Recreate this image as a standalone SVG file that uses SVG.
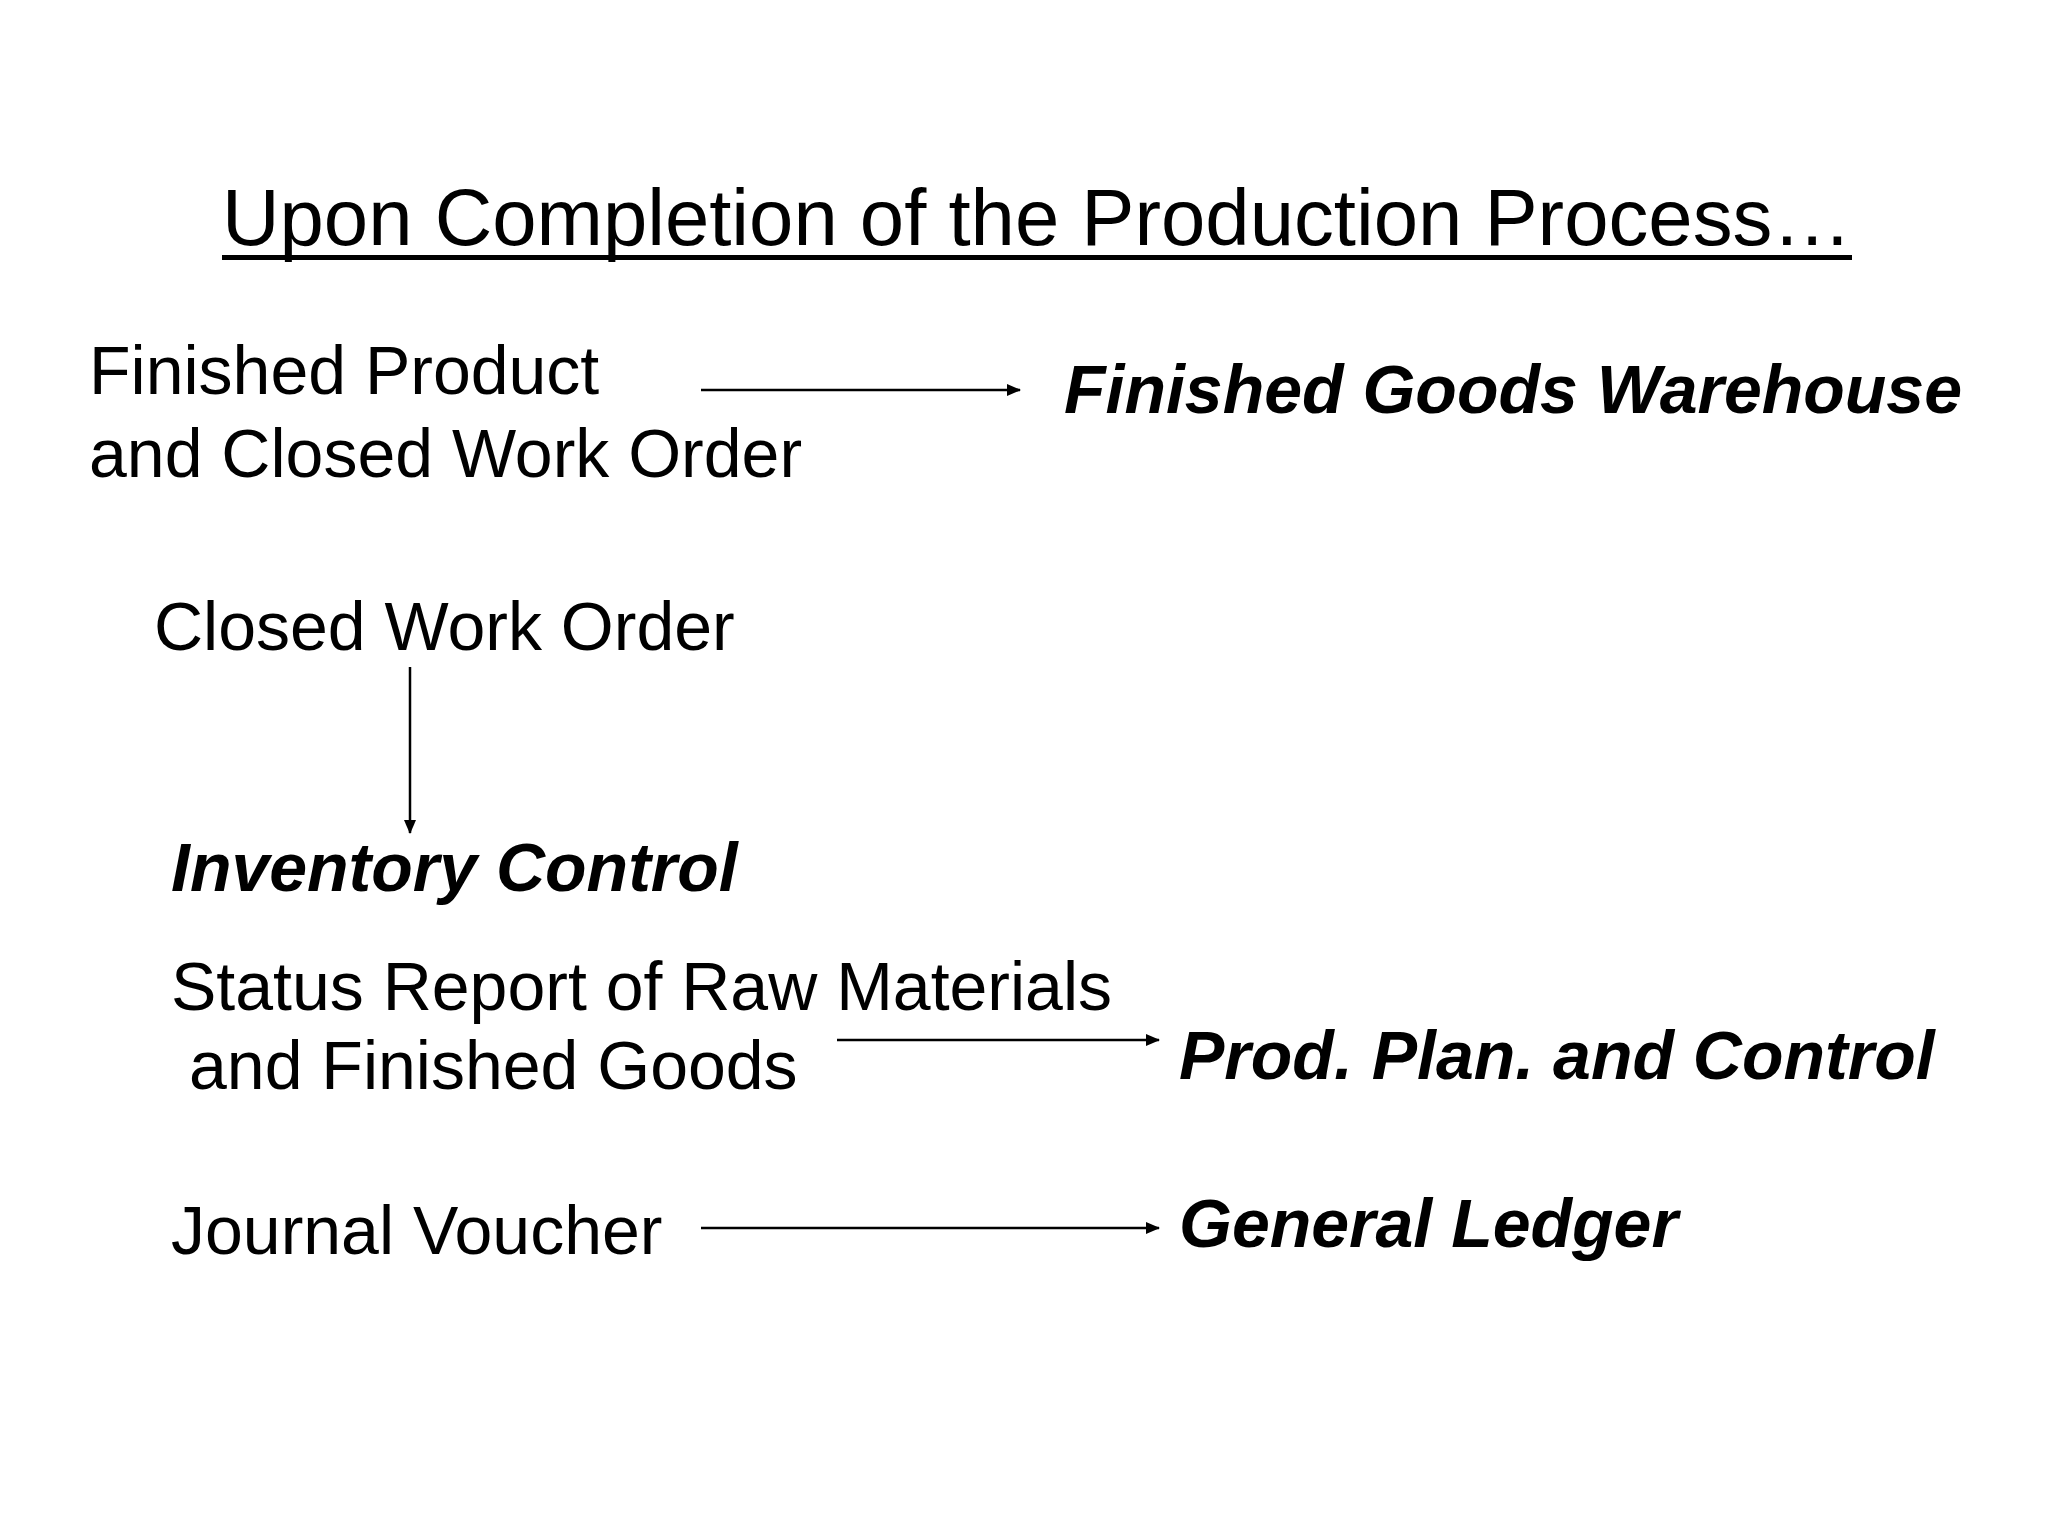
<svg xmlns="http://www.w3.org/2000/svg" width="2048" height="1536" viewBox="0 0 2048 1536">
<style>
.t{font-family:"Liberation Sans",Arial,sans-serif;font-size:68px;fill:#000}
.b{font-weight:bold;font-style:italic}
.c{stroke:#000;stroke-width:2.5;fill:none}
</style>
<defs>
<marker id="ah" markerWidth="14" markerHeight="12" refX="13" refY="6" orient="auto" markerUnits="userSpaceOnUse">
<path d="M0,0 L14,6 L0,12 Z" fill="#000"/>
</marker>
</defs>
<rect width="2048" height="1536" fill="#fff"/>
<g id="title">
<text class="t" x="222" y="245" style="font-size:80px" textLength="1630" lengthAdjust="spacingAndGlyphs">Upon Completion of the Production Process…</text>
<rect x="222" y="255" width="1630" height="5" fill="#000"/>
</g>
<g id="n_finished_product">
<text class="t" x="89" y="394">Finished Product</text>
<text class="t" x="89" y="477">and Closed Work Order</text>
</g>
<g id="n_fg_warehouse">
<text class="t b" x="1064" y="413">Finished Goods Warehouse</text>
</g>
<g id="n_closed_wo">
<text class="t" x="154" y="650">Closed Work Order</text>
</g>
<g id="n_inventory_control">
<text class="t b" x="171" y="891">Inventory Control</text>
</g>
<g id="n_status_report">
<text class="t" x="171" y="1010">Status Report of Raw Materials</text>
<text class="t" x="189" y="1089">and Finished Goods</text>
</g>
<g id="n_ppc">
<text class="t b" x="1179" y="1079">Prod. Plan. and Control</text>
</g>
<g id="n_journal_voucher">
<text class="t" x="171" y="1254">Journal Voucher</text>
</g>
<g id="n_general_ledger">
<text class="t b" x="1179" y="1247">General Ledger</text>
</g>
<g id="connectors">
<line class="c" x1="701" y1="390" x2="1020" y2="390" marker-end="url(#ah)"/>
<line class="c" x1="410" y1="667" x2="410" y2="833" marker-end="url(#ah)"/>
<line class="c" x1="837" y1="1040" x2="1159" y2="1040" marker-end="url(#ah)"/>
<line class="c" x1="701" y1="1228" x2="1159" y2="1228" marker-end="url(#ah)"/>
</g>
</svg>
